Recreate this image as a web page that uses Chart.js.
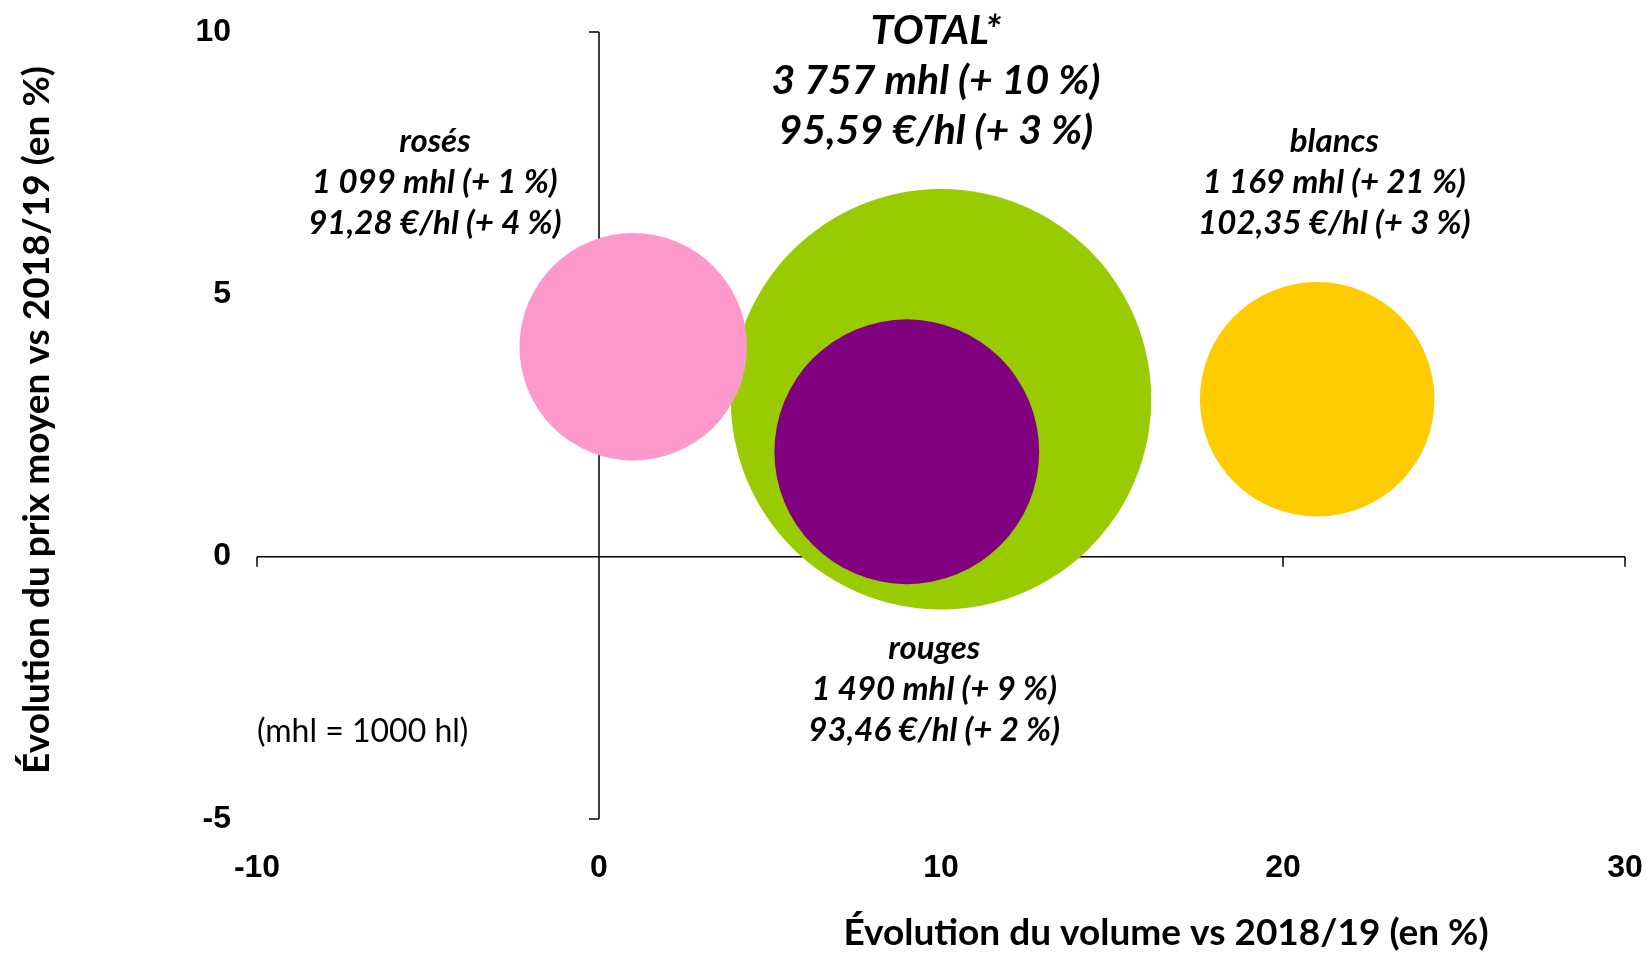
<!DOCTYPE html>
<html>
<head>
<meta charset="utf-8">
<script src="https://cdn.jsdelivr.net/npm/chart.js@4.4.1/dist/chart.umd.min.js"></script>
<style>
  html, body { margin: 0; padding: 0; background: #fff; }
  #wrap { width: 1648px; height: 953px; position: relative; }
</style>
</head>
<body>
<div id="wrap"><canvas id="myChart"></canvas></div>
<script>
// data
const categories = ['rosés', 'rouges', 'blancs', 'TOTAL*'];
const volumeChange = [1, 9, 21, 10];      // % vs 2018/19
const priceChange = [4, 2, 3, 3];         // % vs 2018/19
const volumes = [1099, 1490, 1169, 3757]; // mhl
const prices = ['91,28', '93,46', '102,35', '95,59']; // €/hl
const xTicks = [-10, 0, 10, 20, 30];
const yTicks = [-5, 0, 5, 10];

const bubbleColors = ['#ff99cc', '#800080', '#ffcc00', '#99cc00'];
// label anchor (middle line) in axis units, kept apart from the data
const labelAnchors = [[-4.8, 7.14], [9.8, -2.53], [21.5, 7.14], [9.85, 9.07]];
const labelFonts = [33, 33, 33, 41];
const labelLineHeights = [41, 41, 41, 50];
const bubbleScale = 3.43; // px per sqrt(mhl)

const axisColor = '#000';
const textFont = 'Lato, "Open Sans", sans-serif';

function fmtThousands(n) {
  return String(n).replace(/\B(?=(\d{3})+(?!\d))/g, ' ');
}

// Chart.js draws dataset 0 on top, so TOTAL* (last) ends up underneath
var datasets = categories.map(function (name, i) {
  return {
    label: name,
    data: [{ x: volumeChange[i], y: priceChange[i], r: Math.sqrt(volumes[i]) * bubbleScale }],
    backgroundColor: bubbleColors[i],
    borderWidth: 0,
    hoverBorderWidth: 0,
    hoverRadius: 0,
  };
});

const crossAxes = {
  id: 'crossAxes',
  beforeDatasetsDraw(chart) {
    const c = chart.ctx;
    const xs = chart.scales.x;
    const ys = chart.scales.y;
    const x0 = xs.getPixelForValue(0);
    const y0 = ys.getPixelForValue(0);
    c.save();
    c.strokeStyle = axisColor;
    c.lineWidth = 1.5;
    c.beginPath();
    c.moveTo(x0, ys.getPixelForValue(yTicks[yTicks.length - 1]));
    c.lineTo(x0, ys.getPixelForValue(yTicks[0]));
    yTicks.forEach(function (v) {
      const py = ys.getPixelForValue(v);
      c.moveTo(x0 - 10, py);
      c.lineTo(x0, py);
    });
    c.moveTo(xs.getPixelForValue(xTicks[0]), y0);
    c.lineTo(xs.getPixelForValue(xTicks[xTicks.length - 1]), y0);
    xTicks.forEach(function (v) {
      const px = xs.getPixelForValue(v);
      c.moveTo(px, y0);
      c.lineTo(px, y0 + 10);
    });
    c.stroke();
    c.restore();
  },
  afterDatasetsDraw(chart) {
    const c = chart.ctx;
    const xs = chart.scales.x;
    const ys = chart.scales.y;
    c.save();
    c.fillStyle = '#000';
    c.textAlign = 'center';
    c.textBaseline = 'middle';
    categories.forEach(function (name, i) {
      const lines = [
        name,
        fmtThousands(volumes[i]) + ' mhl (+ ' + volumeChange[i] + ' %)',
        prices[i] + ' €/hl (+ ' + priceChange[i] + ' %)',
      ];
      const cx = xs.getPixelForValue(labelAnchors[i][0]);
      const cy = ys.getPixelForValue(labelAnchors[i][1]);
      c.font = 'italic bold ' + labelFonts[i] + 'px ' + textFont;
      lines.forEach(function (t, k) {
        c.fillText(t, cx, cy + (k - 1) * labelLineHeights[i]);
      });
    });
    // unit note
    c.font = '32px ' + textFont;
    c.textAlign = 'left';
    c.fillText('(mhl = 1000 hl)', xs.getPixelForValue(-10), ys.getPixelForValue(-3.34));
    // axis titles
    c.font = 'bold 37px ' + textFont;
    c.textAlign = 'center';
    c.fillText('Évolution du volume vs 2018/19 (en %)', 1166, 933);
    c.translate(37, 420);
    c.rotate(-Math.PI / 2);
    c.fillText('Évolution du prix moyen vs 2018/19 (en %)', 0, 0);
    c.restore();
  },
};

var ctx = document.getElementById('myChart');
var bubbleChart = new Chart(ctx, {
  type: 'bubble',
  data: { datasets: datasets },
  plugins: [crossAxes],
  options: {
    responsive: true,
    maintainAspectRatio: false,
    animation: false,
    events: [],
    layout: { autoPadding: false, padding: { left: 0, top: 32, right: 23, bottom: 0 } },
    plugins: {
      legend: { display: false },
      tooltip: { enabled: false },
    },
    scales: {
      x: {
        type: 'linear',
        min: xTicks[0],
        max: xTicks[xTicks.length - 1],
        afterBuildTicks: function (s) { s.ticks = xTicks.map(function (v) { return { value: v }; }); },
        afterFit: function (s) {
          s.height = 134;
          s.paddingLeft = 0;
          s.paddingRight = 0;
        },
        grid: { display: false, drawTicks: false },
        border: { display: false },
        ticks: {
          padding: 30,
          color: '#000',
          font: { family: '"Liberation Sans", Arial, sans-serif', size: 32, weight: 'bold' },
        },
      },
      y: {
        type: 'linear',
        min: yTicks[0],
        max: yTicks[yTicks.length - 1],
        afterBuildTicks: function (s) { s.ticks = yTicks.map(function (v) { return { value: v }; }); },
        afterFit: function (s) {
          s.width = 257;
          s.paddingTop = 0;
          s.paddingBottom = 0;
        },
        grid: { display: false, drawTicks: false },
        border: { display: false },
        ticks: {
          padding: 26,
          color: '#000',
          font: { family: '"Liberation Sans", Arial, sans-serif', size: 32, weight: 'bold' },
        },
      },
    },
  },
});
</script>
</body>
</html>
